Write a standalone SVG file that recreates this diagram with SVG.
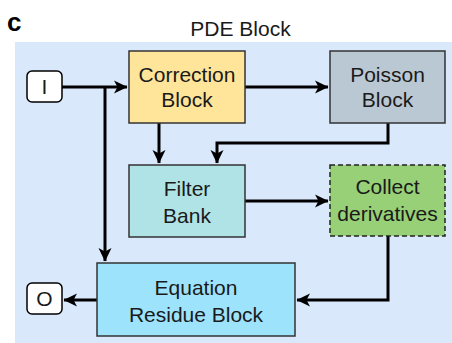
<svg xmlns="http://www.w3.org/2000/svg" width="452" height="343" viewBox="0 0 452 343">
<defs>
<style>
.t{font-family:"Liberation Sans",Arial,sans-serif;font-size:21px;text-anchor:middle;fill:#1a1a1a}
.box{stroke:#333;stroke-width:1.5}
.c{fill:none;stroke:#000;stroke-width:3}
</style>
<marker id="ah" markerUnits="userSpaceOnUse" markerWidth="14" markerHeight="14" refX="13" refY="7" orient="auto" viewBox="0 0 14 14">
<path d="M0,0.5 L13.5,7 L0,13.5 L3.5,7 Z" fill="#000"/>
</marker>
</defs>
<rect width="452" height="343" fill="#fff"/>
<rect x="15" y="42" width="437" height="301" fill="#dae8fc"/>
<text x="7" y="31" style="font-family:'Liberation Sans',Arial,sans-serif;font-size:26px;font-weight:bold" fill="#000">c</text>
<text class="t" x="240.5" y="36">PDE Block</text>
<g id="connectors">
<path class="c" d="M62,87 H127" marker-end="url(#ah)"/>
<path class="c" d="M105,87 V261" marker-end="url(#ah)"/>
<path class="c" d="M245,87 H328" marker-end="url(#ah)"/>
<path class="c" d="M159,123 V163" marker-end="url(#ah)"/>
<path class="c" d="M388,123 V143 H217 V163" marker-end="url(#ah)"/>
<path class="c" d="M245,201 H328" marker-end="url(#ah)"/>
<path class="c" d="M388,236 V300 H297" marker-end="url(#ah)"/>
<path class="c" d="M97,300 H64" marker-end="url(#ah)"/>
</g>
<g id="input">
<rect x="27" y="71" width="35" height="31" rx="5" fill="#fff" stroke="#000" stroke-width="1.5"/>
<text class="t" x="44.5" y="94">I</text>
</g>
<g id="output">
<rect x="27" y="283" width="35" height="31" rx="5" fill="#fff" stroke="#000" stroke-width="1.5"/>
<text class="t" x="44.5" y="306">O</text>
</g>
<g id="correction">
<rect class="box" x="129" y="51" width="116" height="72" fill="#ffe599"/>
<text class="t" x="187" y="82">Correction</text>
<text class="t" x="187" y="107">Block</text>
</g>
<g id="poisson">
<rect class="box" x="330" y="51" width="115" height="72" fill="#bac8d3"/>
<text class="t" x="387.5" y="82" fill="#555">Poisson</text>
<text class="t" x="387.5" y="107" fill="#555">Block</text>
</g>
<g id="filter">
<rect class="box" x="129" y="165" width="116" height="72" fill="#b0e3e6"/>
<text class="t" x="187" y="196">Filter</text>
<text class="t" x="187" y="223">Bank</text>
</g>
<g id="collect">
<rect x="330" y="165" width="115" height="71" fill="#97d077" stroke="#222" stroke-width="1.5" stroke-dasharray="5,3"/>
<text class="t" x="387.5" y="194">Collect</text>
<text class="t" x="387.5" y="221">derivatives</text>
</g>
<g id="equation">
<rect class="box" x="97" y="263" width="198" height="73" fill="#9ee3fc"/>
<text class="t" x="196" y="295">Equation</text>
<text class="t" x="196" y="322">Residue Block</text>
</g>
</svg>
